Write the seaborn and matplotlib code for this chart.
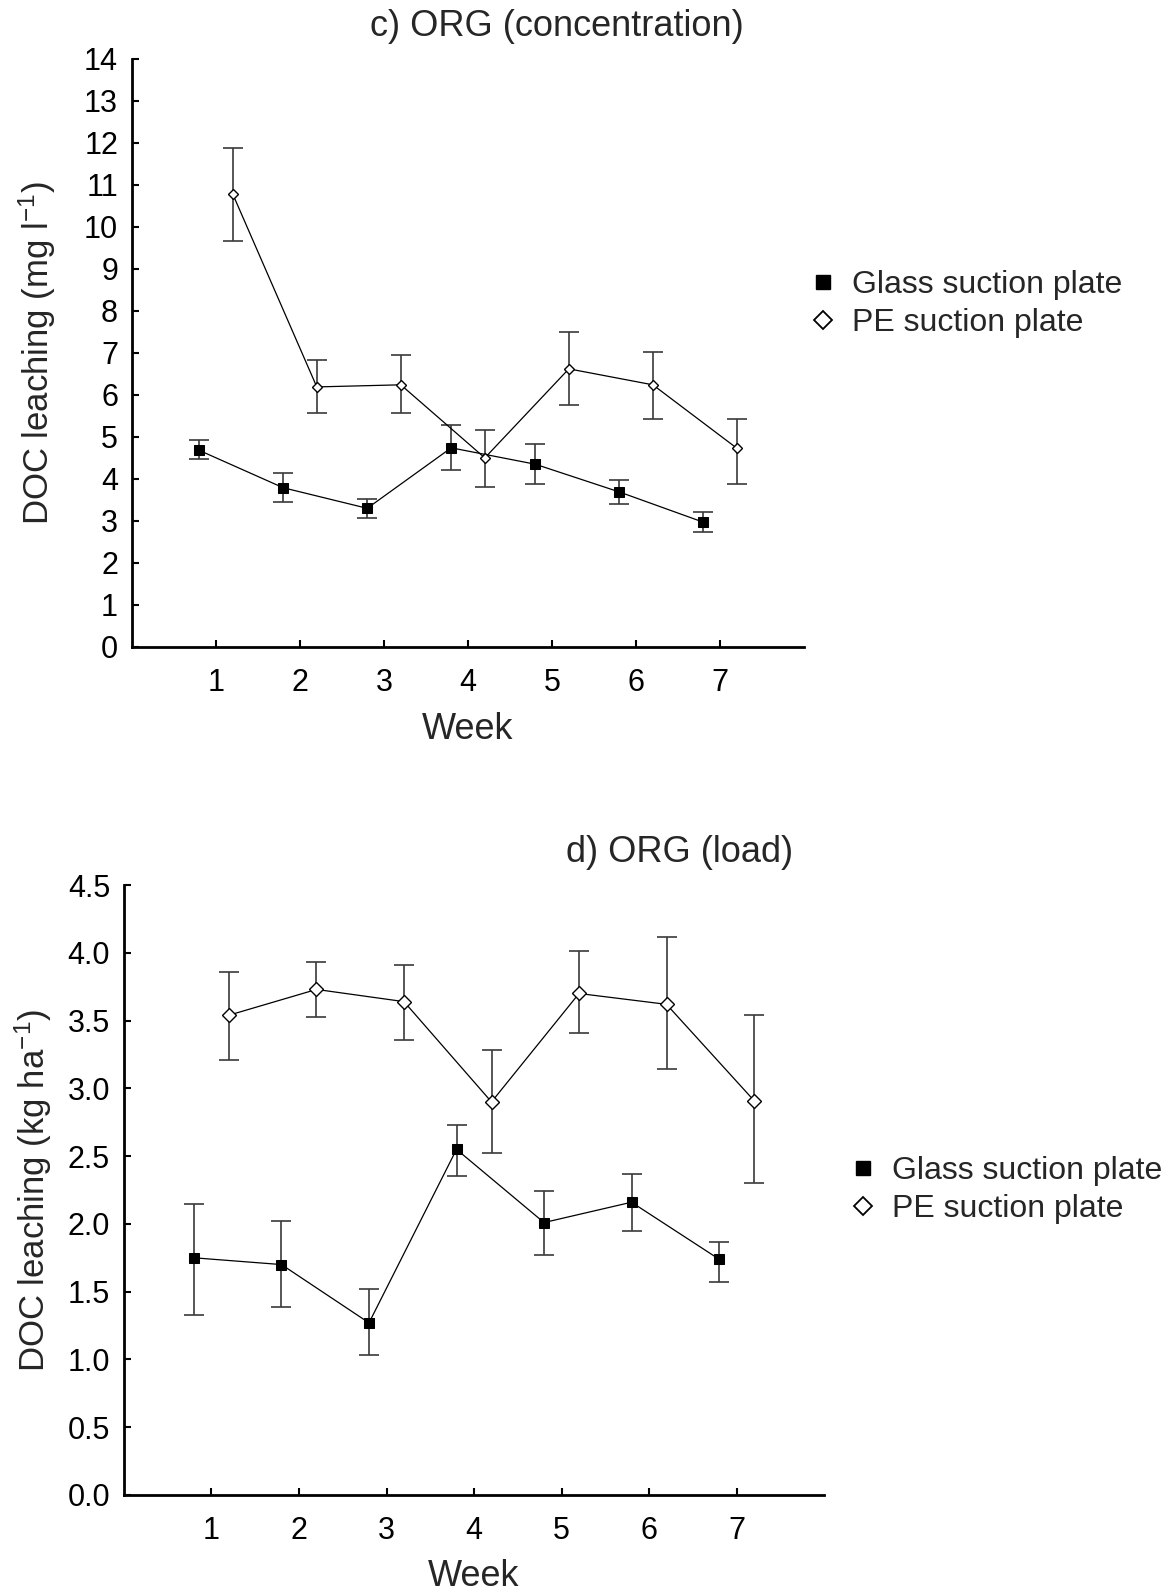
import numpy as np
import pandas as pd
import seaborn as sns
import matplotlib.pyplot as plt
from matplotlib.lines import Line2D

# data
weeks = [1, 2, 3, 4, 5, 6, 7]

# c) concentration (mg l-1)
conc_glass = [4.68, 3.79, 3.30, 4.74, 4.35, 3.69, 2.97]
conc_glass_lo = [4.47, 3.45, 3.06, 4.21, 3.88, 3.41, 2.74]
conc_glass_hi = [4.92, 4.14, 3.53, 5.28, 4.82, 3.97, 3.22]
conc_pe = [10.78, 6.19, 6.24, 4.50, 6.62, 6.24, 4.73]
conc_pe_lo = [9.67, 5.58, 5.56, 3.80, 5.76, 5.42, 3.89]
conc_pe_hi = [11.87, 6.84, 6.94, 5.17, 7.50, 7.02, 5.43]

# d) load (kg ha-1)
load_glass = [1.75, 1.70, 1.27, 2.55, 2.01, 2.16, 1.74]
load_glass_lo = [1.33, 1.39, 1.03, 2.35, 1.77, 1.95, 1.57]
load_glass_hi = [2.15, 2.02, 1.52, 2.73, 2.24, 2.37, 1.87]
load_pe = [3.54, 3.73, 3.64, 2.90, 3.70, 3.62, 2.91]
load_pe_lo = [3.21, 3.53, 3.36, 2.52, 3.41, 3.14, 2.30]
load_pe_hi = [3.86, 3.93, 3.91, 3.28, 4.01, 4.12, 3.54]

series_names = ['Glass suction plate', 'PE suction plate']
OFFSET = 0.2

sns.set_style('ticks')
plt.rcParams['font.family'] = ['Liberation Sans', 'DejaVu Sans']
plt.rcParams['mathtext.default'] = 'regular'

fig = plt.figure(figsize=(11.73, 15.95), dpi=100)
ax_top = fig.add_axes([0.1125, 0.5944, 0.573, 0.3687])
ax_bot = fig.add_axes([0.1057, 0.0627, 0.5968, 0.3824])


def draw_panel(ax, glass, glass_lo, glass_hi, pe, pe_lo, pe_hi, diamond_size):
    xg = np.array(weeks) - OFFSET
    xp = np.array(weeks) + OFFSET
    df = pd.DataFrame({
        'x': np.concatenate([xg, xp]),
        'value': glass + pe,
        'series': [series_names[0]] * 7 + [series_names[1]] * 7,
    })
    # error bars
    g = np.array(glass)
    p = np.array(pe)
    ax.errorbar(xg, g, yerr=[g - np.array(glass_lo), np.array(glass_hi) - g],
                fmt='none', ecolor='#3a3a3a', elinewidth=1.2, capsize=7, capthick=1.2, zorder=2)
    ax.errorbar(xp, p, yerr=[p - np.array(pe_lo), np.array(pe_hi) - p],
                fmt='none', ecolor='#3a3a3a', elinewidth=1.2, capsize=7, capthick=1.2, zorder=2)
    # lines + markers
    sns.lineplot(data=df[df['series'] == series_names[0]], x='x', y='value', ax=ax,
                 color='black', linewidth=0.9, marker='s', markersize=6.5,
                 markerfacecolor='black', markeredgecolor='black', errorbar=None, zorder=3)
    sns.lineplot(data=df[df['series'] == series_names[1]], x='x', y='value', ax=ax,
                 color='black', linewidth=0.9, marker='D', markersize=diamond_size,
                 markerfacecolor='white', markeredgecolor='black', markeredgewidth=1.0,
                 errorbar=None, zorder=3)
    ax.set_xlim(0, 8)
    ax.set_xticks(weeks)
    ax.set_xticklabels([str(w) for w in weeks])
    ax.tick_params(direction='in', length=5, width=1.5, labelsize=22, pad=15, colors='black')
    ax.tick_params(axis='y', pad=10)
    for side in ['top', 'right']:
        ax.spines[side].set_visible(False)
    for side in ['left', 'bottom']:
        ax.spines[side].set_linewidth(2)
        ax.spines[side].set_color('black')


draw_panel(ax_top, conc_glass, conc_glass_lo, conc_glass_hi,
           conc_pe, conc_pe_lo, conc_pe_hi, 5)
ax_top.set_ylim(0, 14)
ax_top.set_yticks(range(0, 15))
ax_top.set_ylabel('DOC leaching (mg l$^{-1}$)', fontsize=25)
ax_top.yaxis.set_label_coords(-0.11, 0.5)
ax_top.set_xlabel('Week', fontsize=26)
ax_top.xaxis.set_label_coords(0.5, -0.11)

draw_panel(ax_bot, load_glass, load_glass_lo, load_glass_hi,
           load_pe, load_pe_lo, load_pe_hi, 7.5)
ax_bot.set_ylim(0, 4.5)
ax_bot.set_yticks(np.arange(0, 4.51, 0.5))
ax_bot.set_yticklabels([f'{v:.1f}' for v in np.arange(0, 4.51, 0.5)])
ax_bot.set_ylabel('DOC leaching (kg ha$^{-1}$)', fontsize=25)
ax_bot.yaxis.set_label_coords(-0.1, 0.5)
ax_bot.set_xlabel('Week', fontsize=26)
ax_bot.xaxis.set_label_coords(0.5, -0.105)

# titles
fig.text(0.4748, 0.9835, 'c) ORG (concentration)', ha='center', va='center', fontsize=26)
fig.text(0.5797, 0.4655, 'd) ORG (load)', ha='center', va='center', fontsize=26)

# legends
handles = [
    Line2D([], [], linestyle='none', marker='s', markersize=10,
           markerfacecolor='black', markeredgecolor='black'),
    Line2D([], [], linestyle='none', marker='D', markersize=9,
           markerfacecolor='white', markeredgecolor='black', markeredgewidth=1.3),
]
fig.legend(handles, series_names, loc='center left', bbox_to_anchor=(0.691, 1 - 304 / 1595),
           frameon=False, fontsize=23, handlelength=0.8, handletextpad=0.5,
           borderpad=0, borderaxespad=0, labelspacing=0.25)
fig.legend(handles, series_names, loc='center left', bbox_to_anchor=(0.725, 1 - 1190 / 1595),
           frameon=False, fontsize=23, handlelength=0.8, handletextpad=0.5,
           borderpad=0, borderaxespad=0, labelspacing=0.25)

fig.savefig('out.png', dpi=100, facecolor='white')
